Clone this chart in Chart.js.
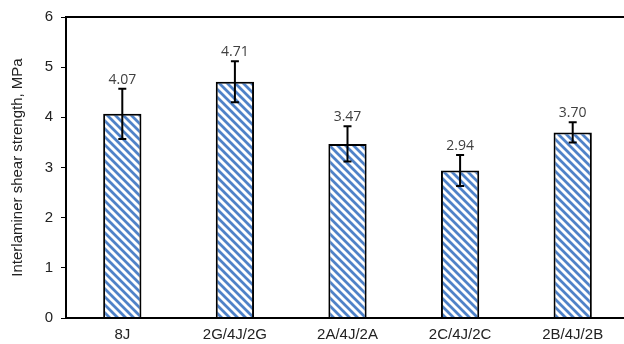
<!DOCTYPE html>
<html>
<head>
<meta charset="utf-8">
<script src="https://cdn.jsdelivr.net/npm/chart.js@4.4.1/dist/chart.umd.min.js"></script>
<style>
  html, body { margin: 0; padding: 0; background: #fff; overflow: hidden; }
  #wrap { width: 640px; height: 344px; }
</style>
</head>
<body>
<div id="wrap"><canvas id="c" width="640" height="344"></canvas></div>
<script>
// Interlaminar shear strength per laminate stacking sequence
const categories = ['8J', '2G/4J/2G', '2A/4J/2A', '2C/4J/2C', '2B/4J/2B'];
const strength = [4.07, 4.71, 3.47, 2.94, 3.70];
const stdDev = [0.50, 0.41, 0.35, 0.31, 0.20];
const yTicks = [0, 1, 2, 3, 4, 5, 6];

// Diagonal hatch fill for the bars
function makeHatch() {
  const s = 8;
  const t = document.createElement('canvas');
  t.width = s; t.height = s;
  const g = t.getContext('2d');
  g.fillStyle = '#ffffff';
  g.fillRect(0, 0, s, s);
  g.strokeStyle = '#4f82c8';
  g.lineWidth = 2.8;
  g.beginPath();
  g.moveTo(-1, -1); g.lineTo(s + 1, s + 1);
  g.moveTo(-2, s - 2); g.lineTo(2, s + 2);
  g.moveTo(s - 2, -2); g.lineTo(s + 2, 2);
  g.stroke();
  return document.getElementById('c').getContext('2d').createPattern(t, 'repeat');
}

// Full frame around the plot area
const framePlugin = {
  id: 'frame',
  afterDatasetsDraw(chart) {
    const { ctx, chartArea: a } = chart;
    ctx.save();
    ctx.strokeStyle = '#000';
    ctx.lineWidth = 2;
    ctx.strokeRect(a.left, a.top, a.right - a.left, a.bottom - a.top);
    ctx.restore();
  }
};

// Error bars and value labels above each bar
const errorPlugin = {
  id: 'errors',
  afterDatasetsDraw(chart) {
    const { ctx } = chart;
    const meta = chart.getDatasetMeta(0);
    const y = chart.scales.y;
    ctx.save();
    meta.data.forEach((bar, i) => {
      const x = bar.x;
      const hi = y.getPixelForValue(strength[i] + stdDev[i]);
      const lo = y.getPixelForValue(strength[i] - stdDev[i]);
      ctx.strokeStyle = '#000';
      ctx.lineWidth = 2;
      ctx.beginPath();
      ctx.moveTo(x, hi); ctx.lineTo(x, lo);
      ctx.moveTo(x - 4, hi); ctx.lineTo(x + 4, hi);
      ctx.moveTo(x - 4, lo); ctx.lineTo(x + 4, lo);
      ctx.stroke();
      ctx.fillStyle = '#404040';
      ctx.font = '14px "Open Sans", sans-serif';
      ctx.textAlign = 'center';
      ctx.textBaseline = 'bottom';
      ctx.fillText(strength[i].toFixed(2), x, hi - 2);
    });
    ctx.restore();
  }
};

new Chart(document.getElementById('c'), {
  type: 'bar',
  data: {
    labels: categories,
    datasets: [{
      data: strength,
      backgroundColor: makeHatch(),
      borderColor: '#000',
      borderWidth: 2,
      barPercentage: 0.34,
      categoryPercentage: 1
    }]
  },
  options: {
    responsive: false,
    animation: false,
    layout: { padding: { top: 13, right: 11, left: 0, bottom: 0 } },
    plugins: { legend: { display: false }, tooltip: { enabled: false } },
    scales: {
      x: {
        afterFit(scale) { scale.height = 26; },
        grid: { display: false },
        border: { display: false },
        ticks: {
          color: '#222',
          font: { family: '"Liberation Sans", Arial, sans-serif', size: 15 },
          padding: 0,
          maxRotation: 0
        }
      },
      y: {
        min: 0,
        max: 6,
        afterBuildTicks(scale) { scale.ticks = yTicks.map(v => ({ value: v })); },
        afterFit(scale) { scale.width = 66; },
        grid: { display: true, drawOnChartArea: false, drawTicks: true, tickLength: 5, color: '#000', lineWidth: 1 },
        border: { display: false },
        ticks: {
          color: '#222',
          font: { family: '"Liberation Sans", Arial, sans-serif', size: 15 },
          padding: 8
        },
        title: {
          display: true,
          text: 'Interlaminer shear strength, MPa',
          color: '#222',
          font: { family: '"Liberation Sans", Arial, sans-serif', size: 15 },
          padding: { top: 9, bottom: 0 }
        }
      }
    }
  },
  plugins: [framePlugin, errorPlugin]
});
</script>
</body>
</html>
